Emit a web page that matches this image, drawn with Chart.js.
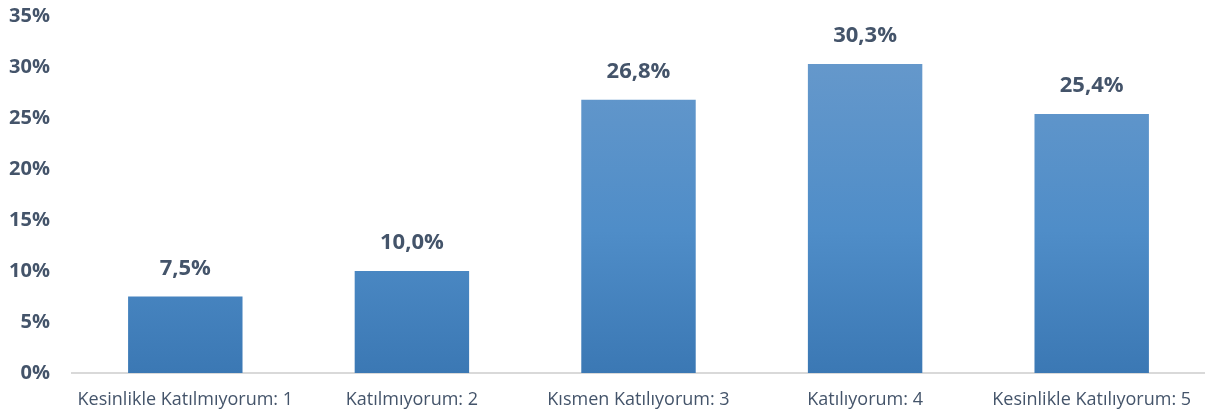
<!DOCTYPE html>
<html>
<head>
<meta charset="utf-8">
<script src="https://cdn.jsdelivr.net/npm/chart.js@4"></script>
<style>
  html, body { margin: 0; padding: 0; background: #fff; }
  #wrap { width: 1205px; height: 418px; }
</style>
</head>
<body>
<div id="wrap"><canvas id="chart" width="1205" height="418"></canvas></div>
<script>
const categories = [
  "Kesinlikle Katılmıyorum: 1",
  "Katılmıyorum: 2",
  "Kısmen Katılıyorum: 3",
  "Katılıyorum: 4",
  "Kesinlikle Katılıyorum: 5",
];
const values = [7.5, 10.0, 26.8, 30.3, 25.4];
const yTicks = [0, 5, 10, 15, 20, 25, 30, 35];

const textColor = "#44546a";
const fontFamily = "'Open Sans', 'Noto Sans', sans-serif";

// Value labels above the bars
const barLabels = {
  id: "barLabels",
  afterDatasetsDraw(chart) {
    const ctx = chart.ctx;
    const meta = chart.getDatasetMeta(0);
    ctx.save();
    ctx.fillStyle = textColor;
    ctx.font = "bold 22px " + fontFamily;
    ctx.textAlign = "center";
    ctx.textBaseline = "middle";
    meta.data.forEach((bar, i) => {
      const txt = values[i].toFixed(1).replace(".", ",") + "%";
      ctx.fillText(txt, bar.x, bar.y - 28);
    });
    ctx.restore();
  },
};

const ctx = document.getElementById("chart").getContext("2d");
new Chart(ctx, {
  type: "bar",
  data: {
    labels: categories,
    datasets: [
      {
        data: values,
        backgroundColor: (c) => {
          const area = c.chart.chartArea;
          if (!area) return "#4a86c5";
          const g = c.chart.ctx.createLinearGradient(0, area.top, 0, area.bottom);
          g.addColorStop(0, "#6b9bcc");
          g.addColorStop(0.6, "#4f8dc8");
          g.addColorStop(1, "#3b78b4");
          return g;
        },
        borderWidth: 0,
        barPercentage: 0.505,
        categoryPercentage: 1,
      },
    ],
  },
  options: {
    responsive: false,
    animation: false,
    layout: { padding: { top: 16, right: 0, bottom: 0, left: 0 } },
    plugins: {
      legend: { display: false },
      tooltip: { enabled: false },
    },
    scales: {
      x: {
        afterFit: (axis) => {
          axis.height = 45;
          axis.paddingLeft = 0;
          axis.paddingRight = 0;
        },
        grid: { display: false },
        border: { display: true, color: "#d9d9d9", width: 2 },
        ticks: {
          color: textColor,
          font: { family: fontFamily, size: 18 },
          padding: 8,
          maxRotation: 0,
          autoSkip: false,
        },
      },
      y: {
        min: 0,
        max: 35,
        afterBuildTicks: (axis) => {
          axis.ticks = yTicks.map((v) => ({ value: v }));
        },
        afterFit: (axis) => {
          axis.width = 72;
          axis.paddingTop = 0;
          axis.paddingBottom = 0;
        },
        grid: { display: false },
        border: { display: false },
        ticks: {
          color: textColor,
          font: { family: fontFamily, size: 20, weight: "bold" },
          padding: 14,
          callback: (v) => v + "%",
        },
      },
    },
  },
  plugins: [barLabels],
});
</script>
</body>
</html>
